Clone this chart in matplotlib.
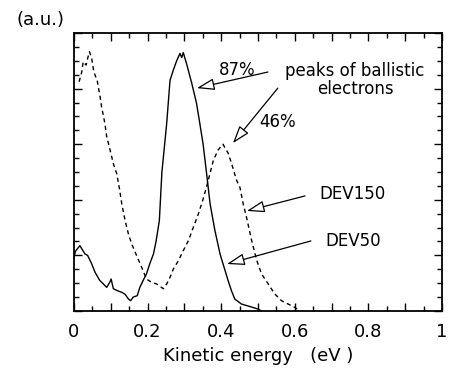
import matplotlib
matplotlib.use("Agg")
import matplotlib.pyplot as plt
from matplotlib.ticker import MultipleLocator, FuncFormatter

# DEV50 (solid)
dev50_x = [0.0, 0.004, 0.016, 0.03, 0.037, 0.048, 0.057, 0.07, 0.08, 0.089, 0.098, 0.101, 0.107,
           0.118, 0.13, 0.139, 0.148, 0.154, 0.161, 0.172, 0.179, 0.188, 0.197, 0.206, 0.216,
           0.223, 0.232, 0.239, 0.252, 0.261, 0.27, 0.279, 0.288, 0.293, 0.297, 0.306, 0.32,
           0.333, 0.342, 0.351, 0.36, 0.37, 0.383, 0.397, 0.408, 0.419, 0.428, 0.437, 0.455,
           0.478, 0.5, 0.51]
dev50_y = [0.19, 0.215, 0.235, 0.205, 0.2, 0.17, 0.14, 0.11, 0.097, 0.085, 0.105, 0.115, 0.08,
           0.073, 0.067, 0.06, 0.043, 0.037, 0.05, 0.055, 0.085, 0.11, 0.133, 0.17, 0.205,
           0.25, 0.325, 0.5, 0.675, 0.83, 0.867, 0.9, 0.927, 0.912, 0.93, 0.89, 0.82,
           0.748, 0.675, 0.6, 0.5, 0.385, 0.29, 0.205, 0.157, 0.109, 0.073, 0.043, 0.025,
           0.016, 0.007, 0.0]

# DEV150 (dashed)
dev150_x = [0.014, 0.021, 0.025, 0.033, 0.036, 0.042, 0.048, 0.054, 0.063, 0.071, 0.075, 0.084,
            0.089, 0.098, 0.107, 0.116, 0.123, 0.13, 0.139, 0.148, 0.157, 0.17, 0.184, 0.197,
            0.211, 0.225, 0.243, 0.252, 0.261, 0.27, 0.284, 0.297, 0.311, 0.324, 0.338, 0.351,
            0.36, 0.379, 0.392, 0.405, 0.419, 0.428, 0.442, 0.451, 0.46, 0.469, 0.483, 0.497,
            0.51, 0.528, 0.546, 0.564, 0.582, 0.6, 0.614]
dev150_y = [0.825, 0.86, 0.897, 0.885, 0.903, 0.933, 0.91, 0.86, 0.83, 0.77, 0.735, 0.675,
            0.627, 0.58, 0.53, 0.495, 0.445, 0.385, 0.325, 0.277, 0.241, 0.2, 0.157, 0.115,
            0.103, 0.097, 0.08, 0.097, 0.121, 0.151, 0.181, 0.217, 0.253, 0.3, 0.349, 0.403,
            0.445, 0.543, 0.58, 0.6, 0.568, 0.532, 0.47, 0.445, 0.385, 0.337, 0.253, 0.181,
            0.133, 0.097, 0.061, 0.037, 0.025, 0.013, 0.0]

xtick_labels = ["0", "0.2", "0.4", "0.6", "0.8", "1"]

plt.rcParams['font.family'] = ['DejaVu Sans']

fig = plt.figure(figsize=(4.5, 3.68), dpi=100)
ax = fig.add_axes([0.1644, 0.155, 0.8176, 0.755])

ax.plot(dev50_x, dev50_y, color='black', lw=1.0)
ax.plot(dev150_x, dev150_y, color='black', lw=1.0, linestyle=(0, (3, 2.5)))

ax.set_xlim(0, 1)
ax.set_ylim(0, 1)

ax.xaxis.set_major_locator(MultipleLocator(0.1))
ax.xaxis.set_minor_locator(MultipleLocator(0.05))
def fmt(v, pos):
    i = int(round(v * 10))
    if i % 2 == 0:
        return xtick_labels[i // 2]
    return ""
ax.xaxis.set_major_formatter(FuncFormatter(fmt))
ax.yaxis.set_major_locator(MultipleLocator(0.2))
ax.yaxis.set_minor_locator(MultipleLocator(0.05))
ax.set_yticklabels([])
ax.tick_params(which='both', direction='in', top=True, right=True, width=1.0, color='black')
ax.tick_params(which='major', length=6)
ax.tick_params(which='minor', length=3.5)
ax.tick_params(axis='x', which='major', labelsize=13, pad=9)
ax.tick_params(axis='y', which='both', labelleft=False)
for s in ax.spines.values():
    s.set_linewidth(1.3)

ax.set_xlabel("Kinetic energy   (eV )", fontsize=13, labelpad=4)
fig.text(0.091, 0.946, "(a.u.)", fontsize=13, ha='center', va='center')

fs = 12
aprops = dict(arrowstyle='-|>,head_length=0.9,head_width=0.3', color='black', lw=0.9,
              fc='white', shrinkA=0, shrinkB=0, mutation_scale=12)

ax.text(0.443, 0.867, "87%", fontsize=fs, ha='center', va='center')
ax.text(0.764, 0.83, "peaks of ballistic\nelectrons", fontsize=fs, ha='center', va='center',
        linespacing=1.0)
ax.annotate("", xy=(0.334, 0.802), xytext=(0.527, 0.86), arrowprops=aprops)
ax.annotate("", xy=(0.432, 0.604), xytext=(0.554, 0.802), arrowprops=aprops)
ax.text(0.554, 0.68, "46%", fontsize=fs, ha='center', va='center')

ax.text(0.758, 0.421, "DEV150", fontsize=fs, ha='center', va='center')
ax.annotate("", xy=(0.47, 0.36), xytext=(0.628, 0.414), arrowprops=aprops)
ax.text(0.758, 0.252, "DEV50", fontsize=fs, ha='center', va='center')
ax.annotate("", xy=(0.416, 0.169), xytext=(0.644, 0.252), arrowprops=aprops)

fig.savefig("out.png", dpi=100)
